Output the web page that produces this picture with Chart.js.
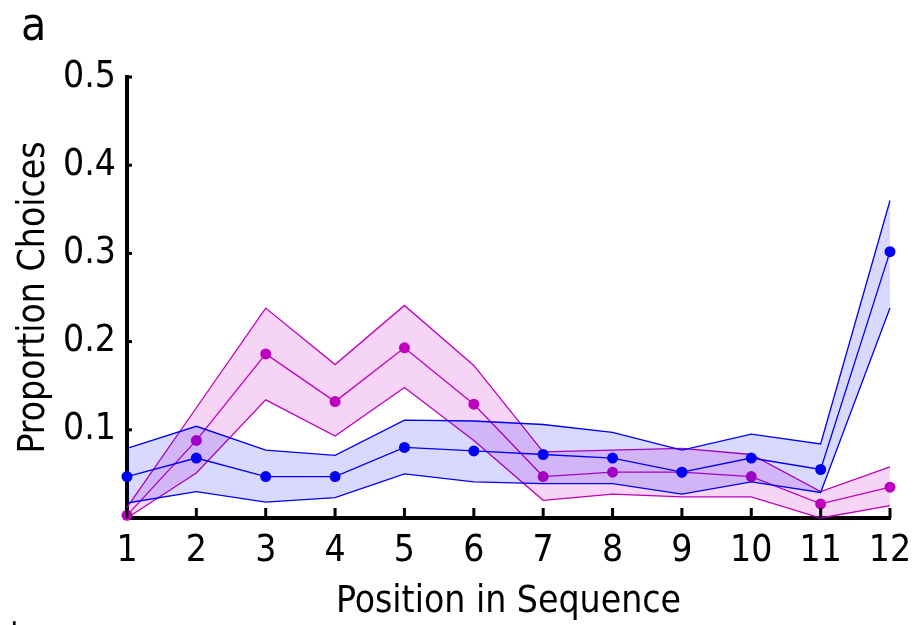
<!DOCTYPE html>
<html>
<head>
<meta charset="utf-8">
<script src="https://cdn.jsdelivr.net/npm/chart.js@4.4.1/dist/chart.umd.min.js"></script>
<style>
  body { margin: 0; background: #fff; }
  canvas { display: block; }
</style>
</head>
<body>
<canvas id="posChart" width="915" height="625"></canvas>
<script>
const positions = ['1', '2', '3', '4', '5', '6', '7', '8', '9', '10', '11', '12'];
const yTicks = [0.1, 0.2, 0.3, 0.4, 0.5];

// blue condition: mean and band
const blueMean  = [0.047, 0.068, 0.047, 0.047, 0.080, 0.076, 0.072, 0.068, 0.052, 0.068, 0.055, 0.302];
const blueUpper = [0.079, 0.104, 0.077, 0.071, 0.111, 0.110, 0.106, 0.097, 0.077, 0.095, 0.084, 0.360];
const blueLower = [0.017, 0.030, 0.018, 0.023, 0.050, 0.041, 0.039, 0.039, 0.027, 0.041, 0.029, 0.238];

// magenta condition: mean and band
const magMean  = [0.003, 0.088, 0.186, 0.132, 0.193, 0.129, 0.047, 0.052, 0.052, 0.047, 0.016, 0.035];
const magUpper = [0.012, 0.125, 0.238, 0.174, 0.241, 0.173, 0.075, 0.077, 0.079, 0.072, 0.030, 0.058];
const magLower = [0.000, 0.051, 0.134, 0.093, 0.148, 0.088, 0.020, 0.027, 0.024, 0.024, 0.000, 0.014];

const FONT = "'Liberation Sans Narrow', 'DejaVu Sans Condensed', sans-serif";
const FSIZE = 37;
const BLUE = '#0000f0';
const MAG = '#bc00bc';

function band(data, color, fill, bg) {
    return {
        data: data,
        borderColor: color,
        borderWidth: 1.3,
        pointRadius: 0,
        fill: fill,
        backgroundColor: bg,
        tension: 0,
        clip: false
    };
}

function meanLine(data, color) {
    return {
        data: data,
        borderColor: color,
        borderWidth: 1.3,
        pointRadius: 5.5,
        pointBackgroundColor: color,
        pointBorderColor: color,
        pointBorderWidth: 0,
        fill: false,
        tension: 0,
        clip: false
    };
}

// inward ticks, panel letter
const decor = {
    id: 'decor',
    afterDraw(chart) {
        const ctx = chart.ctx;
        const x = chart.scales.x;
        const y = chart.scales.y;
        const area = chart.chartArea;
        ctx.save();
        ctx.strokeStyle = '#000';
        ctx.lineWidth = 3;
        positions.forEach((p, i) => {
            const px = x.getPixelForValue(i);
            ctx.beginPath();
            ctx.moveTo(px, area.bottom);
            ctx.lineTo(px, area.bottom - 10);
            ctx.stroke();
        });
        yTicks.forEach(v => {
            const py = y.getPixelForValue(v);
            ctx.beginPath();
            ctx.moveTo(area.left, py);
            ctx.lineTo(area.left + 5, py);
            ctx.stroke();
        });
        ctx.fillStyle = '#000';
        ctx.font = '46px ' + FONT;
        ctx.textAlign = 'left';
        ctx.textBaseline = 'alphabetic';
        ctx.fillText('a', 21, 40);
        ctx.font = '30px ' + FONT;
        ctx.fillText('.', 10, 625);
        ctx.restore();
    }
};

const ctx = document.getElementById('posChart').getContext('2d');
new Chart(ctx, {
    type: 'line',
    data: {
        labels: positions,
        datasets: [
            band(blueUpper, BLUE, false, 'transparent'),
            band(blueLower, BLUE, '-1', 'rgba(0, 0, 255, 0.15)'),
            meanLine(blueMean, BLUE),
            band(magUpper, MAG, false, 'transparent'),
            band(magLower, MAG, '-1', 'rgba(200, 0, 200, 0.17)'),
            meanLine(magMean, MAG)
        ]
    },
    options: {
        responsive: false,
        animation: false,
        layout: { padding: { top: 77, right: 25, left: 0, bottom: 0 } },
        plugins: {
            legend: { display: false },
            tooltip: { enabled: false }
        },
        scales: {
            x: {
                type: 'category',
                offset: false,
                grid: { display: false, drawTicks: false },
                border: { display: true, color: '#000', width: 4 },
                ticks: {
                    color: '#000',
                    padding: 11,
                    maxRotation: 0,
                    autoSkip: false,
                    font: { family: FONT, size: FSIZE }
                },
                title: {
                    display: true,
                    text: 'Position in Sequence',
                    color: '#000',
                    padding: { top: 3, bottom: 0 },
                    font: { family: FONT, size: FSIZE }
                },
                afterFit(scale) {
                    scale.height = 107;
                    scale.paddingRight = 0;
                    scale.paddingLeft = 0;
                }
            },
            y: {
                min: 0,
                max: 0.5,
                grid: { display: false, drawTicks: false },
                border: { display: true, color: '#000', width: 4 },
                ticks: {
                    stepSize: 0.1,
                    color: '#000',
                    padding: 11,
                    font: { family: FONT, size: FSIZE },
                    callback: v => (v === 0 ? '' : v.toFixed(1))
                },
                title: {
                    display: true,
                    text: 'Proportion Choices',
                    color: '#000',
                    padding: { top: 12, bottom: 0 },
                    font: { family: FONT, size: FSIZE }
                },
                afterFit(scale) { scale.width = 127; }
            }
        }
    },
    plugins: [decor]
});
</script>
</body>
</html>
